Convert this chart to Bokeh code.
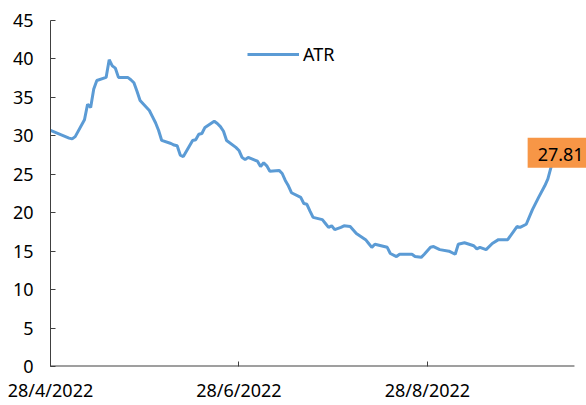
from datetime import datetime, timedelta
from bokeh.plotting import figure
from bokeh.models import FixedTicker, Label, Range1d, Legend, LegendItem
from bokeh.embed import file_html
from bokeh.resources import INLINE

# ---- data ----
start_date = datetime(2022, 4, 28)
day_offsets = [0, 6, 7, 8, 11, 12, 13, 14, 15, 18, 19, 20, 21, 22, 25, 26, 27, 28, 29,
               32, 33, 34, 35, 36, 39, 40, 41, 42, 43, 46, 47, 48, 49, 50, 53, 54, 55,
               56, 57, 60, 61, 62, 63, 64, 67, 68, 69, 70, 71, 74, 75, 76, 77, 78, 81,
               82, 83, 84, 85, 88, 89, 90, 91, 92, 94, 95, 97, 99, 102, 103, 104, 105,
               109, 110, 112, 113, 117, 118, 120, 121, 123, 124, 126, 129, 131, 132,
               134, 137, 138, 139, 141, 143, 145, 148, 151, 152, 154, 156, 158, 160,
               161, 162, 164]
atr_values = [30.7, 29.7, 29.6, 29.9, 32.1, 34.1, 33.7, 36.1, 37.2, 37.6, 39.9, 39.1,
              38.8, 37.6, 37.6, 37.3, 36.9, 35.8, 34.6, 33.3, 32.5, 31.7, 30.7, 29.4,
              29.0, 28.8, 28.7, 27.5, 27.3, 29.4, 29.5, 30.2, 30.3, 31.1, 31.9, 31.6,
              31.2, 30.6, 29.4, 28.5, 28.1, 27.2, 26.9, 27.2, 26.7, 26.0, 26.5, 26.1,
              25.4, 25.5, 25.1, 24.2, 23.5, 22.6, 22.0, 21.2, 21.1, 20.2, 19.4, 19.1,
              18.6, 18.1, 18.3, 17.8, 18.1, 18.3, 18.2, 17.3, 16.5, 16.0, 15.5, 15.9,
              15.5, 14.7, 14.3, 14.6, 14.6, 14.3, 14.2, 14.6, 15.5, 15.6, 15.2, 15.0,
              14.6, 15.9, 16.1, 15.7, 15.3, 15.5, 15.2, 16.0, 16.5, 16.5, 18.2, 18.1,
              18.5, 20.4, 22.0, 23.5, 24.4, 25.9, 27.81]
series_name = "ATR"
tick_dates = [datetime(2022, 4, 28), datetime(2022, 6, 28), datetime(2022, 8, 28)]
tick_labels = ["28/4/2022", "28/6/2022", "28/8/2022"]
y_ticks = [0, 5, 10, 15, 20, 25, 30, 35, 40, 45]
last_label = "27.81"
axis_end_days = 169.6     # where the date axis line stops
frame_end_days = 173.5    # room on the right for the value label

EPOCH = datetime(1970, 1, 1)


def to_ms(d):
    return (d - EPOCH).total_seconds() * 1000.0


x_vals = [to_ms(start_date + timedelta(days=o)) for o in day_offsets]
tick_ms = [to_ms(d) for d in tick_dates]
x_start = to_ms(start_date)
x_axis_end = to_ms(start_date + timedelta(days=axis_end_days))

FONT = "Noto Sans"
AXIS_COL = "#404040"

p = figure(width=586, height=405, x_axis_type="datetime",
           output_backend="svg", toolbar_location=None,
           min_border_left=50, min_border_right=0,
           min_border_top=20, min_border_bottom=39)
p.x_range = Range1d(x_start, to_ms(start_date + timedelta(days=frame_end_days)))
p.y_range = Range1d(0, 45)

p.outline_line_color = None
p.grid.visible = False
p.background_fill_color = "white"
p.border_fill_color = "white"

# horizontal axis line, stopping where the date axis ends
p.segment(x0=[x_start], y0=[0], x1=[x_axis_end], y1=[0],
          line_color=AXIS_COL, line_width=2)

r = p.line(x_vals, atr_values, line_color="#5B9BD5", line_width=3)

# axes
for ax in (p.xaxis[0], p.yaxis[0]):
    ax.axis_line_color = AXIS_COL
    ax.axis_line_width = 1
    ax.major_tick_line_color = AXIS_COL
    ax.major_tick_in = 5
    ax.major_tick_out = 0
    ax.minor_tick_line_color = None
    ax.major_label_text_font = FONT
    ax.major_label_text_font_size = "18px"
    ax.major_label_text_color = "black"
p.xaxis[0].axis_line_color = None

p.yaxis[0].ticker = FixedTicker(ticks=y_ticks)
p.yaxis[0].major_label_standoff = 17
p.xaxis[0].ticker = FixedTicker(ticks=tick_ms)
p.xaxis[0].major_label_overrides = {t: lab for t, lab in zip(tick_ms, tick_labels)}
p.xaxis[0].major_label_standoff = 11

# legend
legend = Legend(items=[LegendItem(label=series_name, renderers=[r])],
                location=(197, 300), orientation="horizontal",
                border_line_color=None, background_fill_alpha=0,
                padding=0, margin=0, glyph_width=52, glyph_height=16,
                label_height=16, label_standoff=4,
                label_text_font=FONT, label_text_font_size="18px",
                label_text_color="black")
p.add_layout(legend)

# end value label
lab = Label(x=x_vals[-1], y=atr_values[-1], text=last_label,
            text_align="center", text_baseline="middle", x_offset=2,
            text_font=FONT, text_font_size="18px", text_color="black",
            background_fill_color="#F79646", padding=(10, 7, 10, 7))
p.add_layout(lab)

open("out.html", "w").write(file_html(p, INLINE))
